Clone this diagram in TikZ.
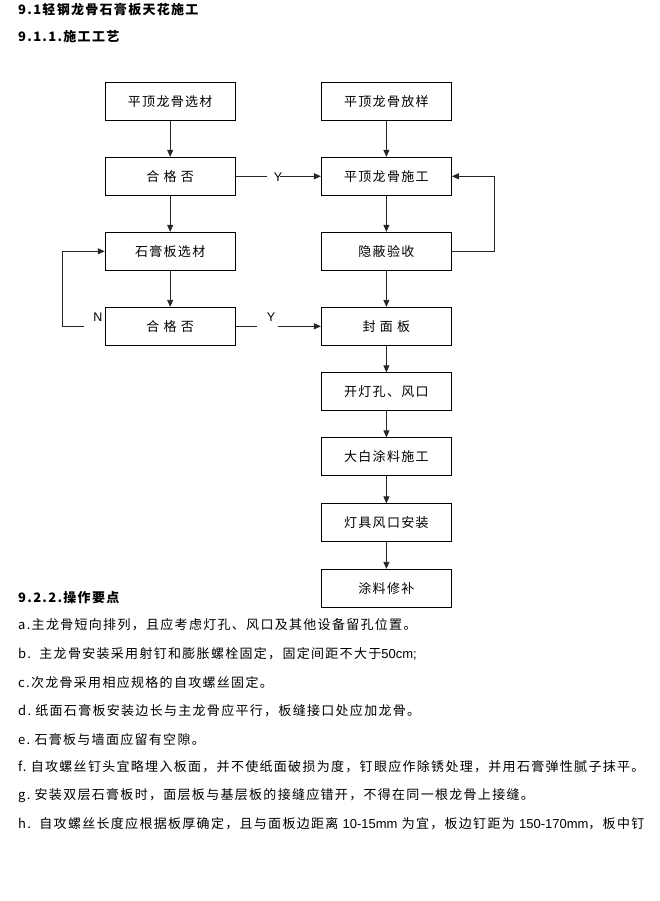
\documentclass[tikz,border=0pt]{standalone}
\usepackage{fontspec}
\setmainfont{Liberation Sans}
\newfontfamily\cjk[LetterSpace=10]{Noto Sans CJK SC}
\newfontfamily\latin{Liberation Sans}
\usetikzlibrary{arrows.meta}
\begin{document}
\begin{tikzpicture}[x=1pt,y=-1pt,
  box/.style={draw=black, line width=0.9pt, minimum width=130pt, minimum height=38pt, inner sep=0pt, font=\cjk\fontsize{13}{15}\selectfont},
  arr/.style={draw=black!85, line width=0.8pt, -{Triangle[length=7pt,width=6pt]}},
  ln/.style={draw=black!85, line width=0.8pt},
  lab/.style={font=\latin\fontsize{12.5}{14}\selectfont, inner sep=0pt},
  txt/.style={anchor=west, inner sep=0pt, font=\cjk\fontsize{13}{15}\selectfont},
  head/.style={anchor=west, inner sep=0pt, font=\cjk\bfseries\fontsize{13}{15}\selectfont}]
\useasboundingbox[fill=white] (0,0) rectangle (660,901);

% headings
\node[head] (h1) at (18,10) {9.1轻钢龙骨石膏板天花施工};
\node[head] (h2) at (18,37) {9.1.1.施工工艺};

% left column
\node[box] (L1) at (170.2,101.3) {平顶龙骨选材};
\node[box] (L2) at (170.2,176.3) {合\ 格\ 否};
\node[box] (L3) at (170.2,251.3) {石膏板选材};
\node[box] (L4) at (170.2,326.3) {合\ 格\ 否};

% right column
\node[box] (R1) at (386.4,101.3) {平顶龙骨放样};
\node[box] (R2) at (386.4,176.3) {平顶龙骨施工};
\node[box] (R3) at (386.4,251.3) {隐蔽验收};
\node[box] (R4) at (386.4,326.3) {封\ 面\ 板};
\node[box] (R5) at (386.4,391.8) {开灯孔、风口};
\node[box] (R6) at (386.4,456.8) {大白涂料施工};
\node[box] (R7) at (386.4,522.8) {灯具风口安装};
\node[box] (R8) at (386.4,588.3) {涂料修补};

% vertical arrows
\draw[arr] (L1) -- (L2);
\draw[arr] (L2) -- (L3);
\draw[arr] (L3) -- (L4);
\draw[arr] (R1) -- (R2);
\draw[arr] (R2) -- (R3);
\draw[arr] (R3) -- (R4);
\draw[arr] (R4) -- (R5);
\draw[arr] (R5) -- (R6);
\draw[arr] (R6) -- (R7);
\draw[arr] (R7) -- (R8);

% Y from L2 to R2
\coordinate (y1a) at (267,176.3);
\coordinate (y1b) at (280,176.3);
\node[lab] (Y1) at (278,177.5) {Y};
\draw[ln] (L2.east) -- (y1a);
\draw[arr] (y1b) -- (R2.west);

% feedback R3 -> R2
\coordinate (fb) at (494,251.3);
\draw[arr] (R3.east) -- (fb) |- (R2.east);

% N loop L4 -> L3
\coordinate (n1) at (84,326.3);
\coordinate (n2) at (62.3,326.3);
\node[lab] (N) at (98,317) {N};
\draw[arr] (n1) -- (n2) |- (L3.west);

% Y from L4 to R4
\coordinate (y2a) at (257,326.3);
\coordinate (y2b) at (278,326.3);
\node[lab] (Y2) at (271,317) {Y};
\draw[ln] (L4.east) -- (y2a);
\draw[arr] (y2b) -- (R4.west);

% text
\node[head] (h3) at (18,598) {9.2.2.操作要点};
\node[txt] (ta) at (18,625) {a.主龙骨短向排列，且应考虑灯孔、风口及其他设备留孔位置。};
\node[txt] (tb) at (18,654) {b.\ \ 主龙骨安装采用射钉和膨胀螺栓固定，固定间距不大于{\latin 50cm;}};
\node[txt] (tc) at (18,683) {c.次龙骨采用相应规格的自攻螺丝固定。};
\node[txt] (td) at (18,711) {d.\ 纸面石膏板安装边长与主龙骨应平行，板缝接口处应加龙骨。};
\node[txt] (te) at (18,740) {e.\ 石膏板与墙面应留有空隙。};
\node[txt] (tf) at (18,767) {f.\ 自攻螺丝钉头宜略埋入板面，并不使纸面破损为度，钉眼应作除锈处理，并用石膏弹性腻子抹平。};
\node[txt] (tg) at (18,796) {g.\ 安装双层石膏板时，面层板与基层板的接缝应错开，不得在同一根龙骨上接缝。};
\node[txt] (th) at (18,824) {h.\ \ 自攻螺丝长度应根据板厚确定，且与面板边距离 {\latin 10-15mm} 为宜，板边钉距为 {\latin 150-170mm}，板中钉};
\end{tikzpicture}
\end{document}
